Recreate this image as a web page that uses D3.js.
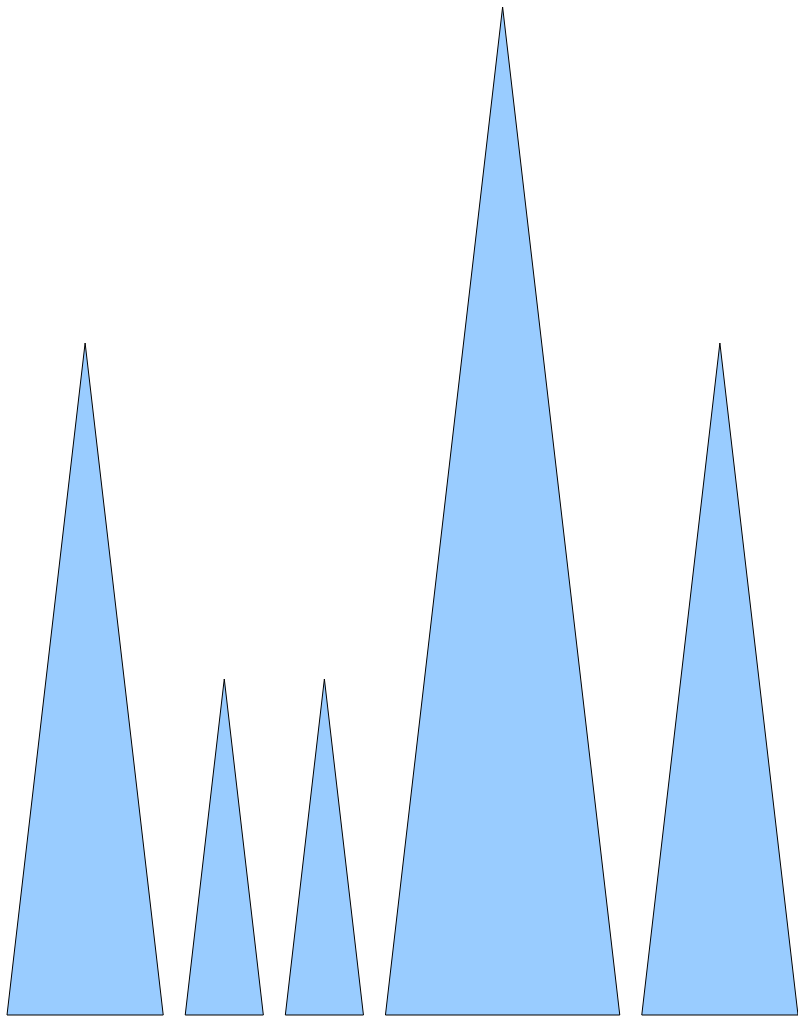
<!DOCTYPE html>
<html lang="en">
<head>
  <meta charset="UTF-8">
  <title>Triangles</title>
  <script src="https://d3js.org/d3.v7.min.js"></script>
  <style>
    html, body { margin: 0; padding: 0; background: #fff; }
  </style>
</head>
<body>
  <div id="chart"></div>

  <script>
    // data
    const categories = ["A", "B", "C", "D", "E"];
    const values = [2, 1, 1, 3, 2];

    const margin = {top: 7, right: 0, bottom: 1, left: 7},
          width = 798 - margin.left - margin.right,
          height = 1016 - margin.top - margin.bottom;
    const gap = 22;

    const svg = d3.select("#chart")
                  .append("svg")
                  .attr("width", 798)
                  .attr("height", 1016)
                  .append("g")
                  .attr("transform", `translate(${margin.left},${margin.top})`);

    const data = categories.map((c, i) => ({name: c, value: values[i]}));

    // width of each triangle is proportional to its value
    const total = d3.sum(values);
    const w = d3.scaleLinear()
                .domain([0, total])
                .range([0, width - gap * (data.length - 1)]);

    let acc = 0;
    data.forEach((d, i) => {
      d.x0 = w(acc) + i * gap;
      d.x1 = w(acc + d.value) + i * gap;
      acc += d.value;
    });

    const y = d3.scaleLinear()
                .domain([0, d3.max(values)])
                .range([height, 0]);

    svg.selectAll(".tri")
       .data(data)
       .enter()
       .append("path")
       .attr("class", "tri")
       .attr("d", d => {
          const mid = (d.x0 + d.x1) / 2;
          return `M${d.x0},${y(0)}L${mid},${y(d.value)}L${d.x1},${y(0)}Z`;
       })
       .attr("fill", "#99ccff")
       .attr("stroke", "#000")
       .attr("stroke-width", 1);
  </script>
</body>
</html>
